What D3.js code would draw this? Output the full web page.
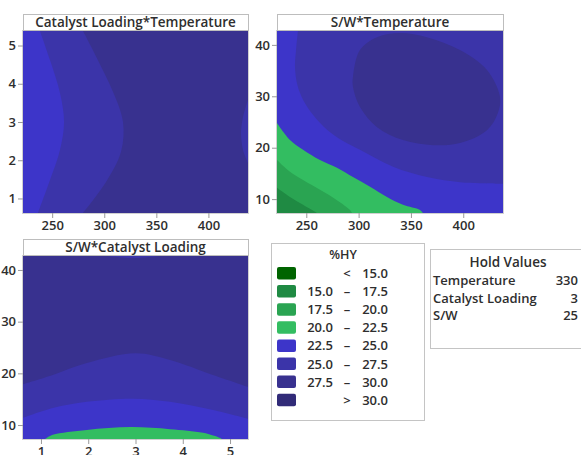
<!DOCTYPE html>
<html>
<head>
<meta charset="utf-8">
<script src="https://cdn.jsdelivr.net/npm/d3@7"></script>
<style>
body { margin: 0; background: #fff; }
text { font-family: "Open Sans", sans-serif; font-weight: 600; fill: #2e2e2e; }
</style>
</head>
<body>
<svg id="chart" width="581" height="455"></svg>
<script>
// factor ranges (hold values in the middle)
var tempDomain = [222, 438], catDomain = [0.62, 5.38], swDomain = [7.3, 42.7];
var tempTicks = [250, 300, 350, 400];
var catTicks = [1, 2, 3, 4, 5];
var swTicks = [10, 20, 30, 40];

// %HY contour levels
var levelLabels = [["", "<", "15.0"], ["15.0", "–", "17.5"], ["17.5", "–", "20.0"], ["20.0", "–", "22.5"],
                   ["22.5", "–", "25.0"], ["25.0", "–", "27.5"], ["27.5", "–", "30.0"], ["", ">", "30.0"]];
var levelColors = ["#006400", "#1f8a43", "#2aa452", "#33bd61", "#3d35c9", "#3b34a9", "#38318f", "#312b78"];

var holdNames = ["Temperature", "Catalyst Loading", "S/W"];
var holdValues = ["330", "3", "25"];

// contour lines, [x, y] in data units
// Catalyst Loading*Temperature  (x temperature, y catalyst loading)
var ctLevel275 = [[279.6,5.38],[293,4.67],[308.4,3.79],[318,3.0],[316.1,2.22],[301.7,1.43],[279.6,0.62]];
var ctLevel25 = [[238.3,5.38],[247.9,4.62],[257.5,3.76],[261.4,3.0],[257.5,2.27],[247.9,1.48],[236.4,0.62]];
var ctEdge275 = [[438,3.58],[433.2,3.13],[431.3,2.71],[433.2,2.27],[438,1.93]];

// S/W*Temperature  (x temperature, y S/W)
var stLevel25 = [[242,42.7],[240.2,39],[239.2,35.7],[241.5,32.2],[247,29.3],[256.4,26.4],[269.8,23.5],[285.1,21.3],
                 [301.3,19.6],[332.9,16.3],[365.4,14.3],[397,13.3],[416,13.1],[438,13.0]];
var stLevel275 = [[294.6,33.8],[301.3,39.0],[317.6,41.5],[339.6,42.3],[365.4,41.5],[396.9,39.0],[422.7,35.1],[435.1,29.9],
                  [433.2,26.8],[422.7,23.4],[396.9,20.9],[371.1,20.5],[342.4,21.5],[317.6,24.0],[301.3,27.9],[294.6,31.8]];
var stLevel225 = [[222,24.8],[234.4,21.5],[246.9,19.6],[263.1,17.6],[279.3,16.1],[294.6,14.3],[310.9,12.4],
                  [327.1,10.4],[342.4,8.9],[358.7,7.9],[361.5,7.3]];
var stLevel20 = [[222,17.6],[234.4,15.3],[246.9,13.7],[263.1,11.8],[279.3,9.8],[291.8,7.9],[293.7,7.3]];
var stLevel175 = [[222,12.2],[234.4,10.4],[246.9,8.9],[260.2,7.3]];

// S/W*Catalyst Loading  (x catalyst loading, y S/W)
var scLevel275 = [[0.62,17.9],[1.25,19.7],[1.97,22.0],[3.0,23.9],[3.73,22.6],[4.64,19.7],[5.38,17.4]];
var scLevel25 = [[0.62,11.4],[1.25,13.3],[1.97,14.5],[2.95,15.1],[3.73,14.5],[4.64,12.9],[5.38,11.2]];
var scLevel225 = [[1.09,7.3],[1.25,8.1],[1.97,9.05],[2.9,9.6],[3.73,9.2],[4.43,8.5],[4.79,7.5],[4.83,7.3]];
var scTop275 = [[2.4,42.7],[2.95,42.3],[3.5,42.7]];

var svg = d3.select("#chart");

var panels = [
    {title: "Catalyst Loading*Temperature", left: 23, top: 31, width: 225, height: 182,
     xDomain: tempDomain, yDomain: catDomain, xTicks: tempTicks, yTicks: catTicks, base: 6,
     regions: [
        {level: 5, curve: ctLevel275, close: [[222, 0.62], [222, 5.38]]},
        {level: 4, curve: ctLevel25, close: [[222, 0.62], [222, 5.38]]},
        {level: 5, curve: ctEdge275, close: []}
     ]},
    {title: "S/W*Temperature", left: 277, top: 31, width: 226, height: 182,
     xDomain: tempDomain, yDomain: swDomain, xTicks: tempTicks, yTicks: swTicks, base: 4,
     regions: [
        {level: 5, curve: stLevel25, close: [[438, 42.7]]},
        {level: 6, curve: stLevel275, closed: true},
        {level: 3, curve: stLevel225, close: [[222, 7.3]]},
        {level: 2, curve: stLevel20, close: [[222, 7.3]]},
        {level: 1, curve: stLevel175, close: [[222, 7.3]]}
     ]},
    {title: "S/W*Catalyst Loading", left: 23, top: 256, width: 225, height: 183,
     xDomain: catDomain, yDomain: swDomain, xTicks: catTicks, yTicks: swTicks, base: 6,
     regions: [
        {level: 5, curve: scLevel275, close: [[5.38, 7.3], [0.62, 7.3]]},
        {level: 4, curve: scLevel25, close: [[5.38, 7.3], [0.62, 7.3]]},
        {level: 3, curve: scLevel225, close: []},
        {level: 5, curve: scTop275, close: []}
     ]}
];

panels.forEach(function(p, i) {
    var x = d3.scaleLinear().domain(p.xDomain).range([0, p.width]);
    var y = d3.scaleLinear().domain(p.yDomain).range([p.height, 0]);

    var g = svg.append("g").attr("transform", "translate(" + p.left + "," + p.top + ")");

    g.append("clipPath").attr("id", "clip" + i)
        .append("rect").attr("width", p.width).attr("height", p.height);

    var plot = g.append("g").attr("clip-path", "url(#clip" + i + ")");

    plot.append("rect")
        .attr("width", p.width).attr("height", p.height)
        .attr("fill", levelColors[p.base]);

    p.regions.forEach(function(r) {
        var line = d3.line()
            .x(function(d) { return x(d[0]); })
            .y(function(d) { return y(d[1]); })
            .curve(r.closed ? d3.curveCatmullRomClosed : d3.curveCatmullRom);
        var d = line(r.curve);
        if (!r.closed) {
            r.close.forEach(function(c) { d += "L" + x(c[0]) + "," + y(c[1]); });
            d += "Z";
        }
        plot.append("path").attr("d", d).attr("fill", levelColors[r.level]);
    });

    // thin frame
    g.append("rect")
        .attr("x", -0.5).attr("y", -0.5)
        .attr("width", p.width + 1).attr("height", p.height + 1)
        .attr("fill", "none").attr("stroke", "#d0d0d0");

    // title strip
    g.append("rect")
        .attr("x", 0.5).attr("y", -16.5)
        .attr("width", p.width).attr("height", 16)
        .attr("fill", "#fff").attr("stroke", "#bdbdbd");
    g.append("text")
        .attr("x", p.width / 2).attr("y", -4)
        .attr("text-anchor", "middle")
        .style("font-size", "13.5px")
        .text(p.title);

    var xAxis = g.append("g")
        .attr("transform", "translate(0," + p.height + ")")
        .call(d3.axisBottom(x).tickValues(p.xTicks).tickFormat(d3.format("d")).tickSize(5).tickPadding(3));
    var yAxis = g.append("g")
        .call(d3.axisLeft(y).tickValues(p.yTicks).tickFormat(d3.format("d")).tickSize(5).tickPadding(2));

    [xAxis, yAxis].forEach(function(a) {
        a.select(".domain").remove();
        a.selectAll("line").attr("stroke", "#9a9a9a");
        a.selectAll("text").style("font-size", "13px").style("font-family", "'Open Sans', sans-serif").attr("fill", "#2e2e2e");
    });
});

// legend
var legend = svg.append("g").attr("transform", "translate(271,243)");
legend.append("rect")
    .attr("x", 0.5).attr("y", 0.5).attr("width", 153).attr("height", 177)
    .attr("fill", "#fff").attr("stroke", "#c4c4c4");
legend.append("text")
    .attr("x", 72).attr("y", 16).attr("text-anchor", "middle")
    .style("font-size", "12.5px").text("%HY");

var rows = legend.selectAll(".row")
    .data(levelLabels)
    .enter().append("g")
    .attr("class", "row")
    .attr("transform", function(d, i) { return "translate(0," + (30 + i * 18.1) + ")"; });

rows.append("rect")
    .attr("x", 6).attr("y", -6).attr("width", 19).attr("height", 12.5).attr("rx", 2)
    .attr("fill", function(d, i) { return levelColors[i]; });
rows.append("text")
    .attr("x", 62).attr("y", 5).attr("text-anchor", "end")
    .style("font-size", "13px").text(function(d) { return d[0]; });
rows.append("text")
    .attr("x", 76).attr("y", 5).attr("text-anchor", "middle")
    .style("font-size", "13px").text(function(d) { return d[1]; });
rows.append("text")
    .attr("x", 117).attr("y", 5).attr("text-anchor", "end")
    .style("font-size", "13px").text(function(d) { return d[2]; });

// hold values
var hold = svg.append("g").attr("transform", "translate(430,249)");
hold.append("rect")
    .attr("x", 0.5).attr("y", 0.5).attr("width", 170).attr("height", 99)
    .attr("fill", "#fff").attr("stroke", "#c4c4c4");
hold.append("text")
    .attr("x", 78).attr("y", 18).attr("text-anchor", "middle")
    .style("font-size", "13.5px").text("Hold Values");
holdNames.forEach(function(n, i) {
    hold.append("text").attr("x", 3).attr("y", 36 + i * 17.5)
        .style("font-size", "13px").text(n);
    hold.append("text").attr("x", 148).attr("y", 36 + i * 17.5).attr("text-anchor", "end")
        .style("font-size", "13px").text(holdValues[i]);
});
</script>
</body>
</html>
